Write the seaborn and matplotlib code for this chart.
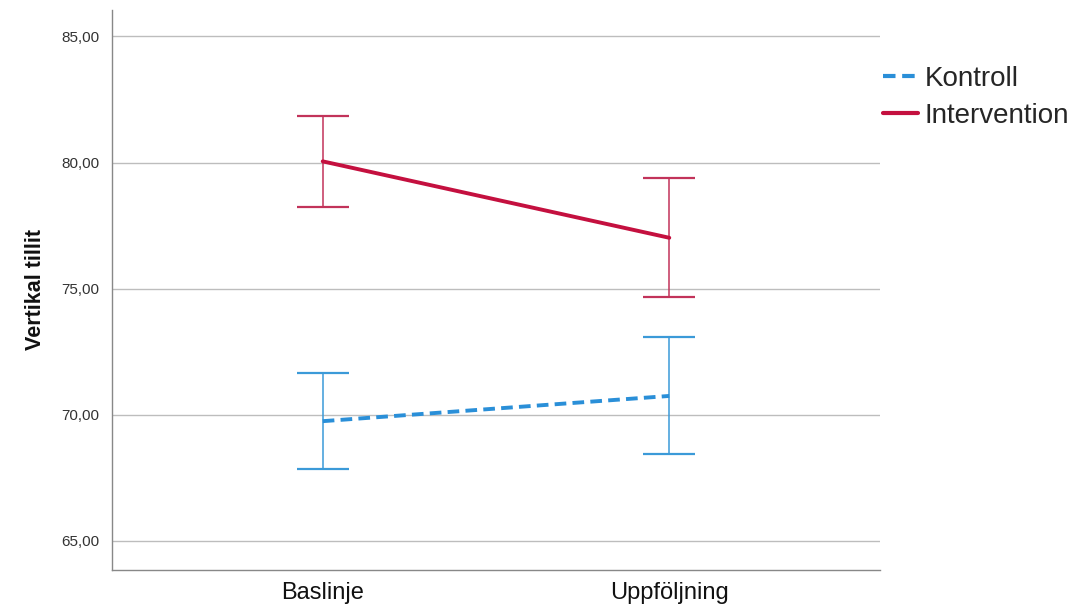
import matplotlib
matplotlib.use("Agg")
import matplotlib.pyplot as plt
import seaborn as sns
import pandas as pd
from matplotlib.lines import Line2D

# Data
timepoints = ["Baslinje", "Uppföljning"]
groups = ["Kontroll", "Intervention"]
kontroll_mean = [69.75, 70.75]
kontroll_lo = [67.85, 68.45]
kontroll_hi = [71.65, 73.10]
intervention_mean = [80.05, 77.02]
intervention_lo = [78.25, 74.68]
intervention_hi = [81.85, 79.38]
yticks = [65, 70, 75, 80, 85]

sns.set_theme(style="white")
plt.rcParams["font.family"] = ["Liberation Sans", "DejaVu Sans"]

df = pd.DataFrame({
    "Tid": timepoints * 2,
    "Grupp": [groups[0]] * 2 + [groups[1]] * 2,
    "Medel": kontroll_mean + intervention_mean,
})

colors = {"Kontroll": "#2a8fd8", "Intervention": "#c4103f"}
err_colors = {"Kontroll": "#3b9ad8", "Intervention": "#c2335a"}

fig = plt.figure(figsize=(10.87, 6.12), dpi=100)
ax = fig.add_axes([112 / 1087, 1 - 570 / 612, (880 - 112) / 1087, (570 - 10) / 612])

# error bars (confidence intervals)
for g, m, lo, hi in [("Kontroll", kontroll_mean, kontroll_lo, kontroll_hi),
                     ("Intervention", intervention_mean, intervention_lo, intervention_hi)]:
    yerr = [[mm - l for mm, l in zip(m, lo)], [h - mm for mm, h in zip(m, hi)]]
    ax.errorbar([0, 1], m, yerr=yerr, fmt="none", ecolor=err_colors[g],
                elinewidth=1.1, capsize=19, capthick=1.6, zorder=3)

sns.lineplot(data=df, x="Tid", y="Medel", hue="Grupp", style="Grupp",
             palette=colors, dashes={"Kontroll": (3, 1.6), "Intervention": ""},
             linewidth=2.8, ax=ax, legend=False, zorder=4, sort=False)

ax.set_xlim(-0.608, 1.608)
ax.set_ylim(63.85, 86.05)
ax.set_yticks(yticks)
ax.set_yticklabels([f"{v:.2f}".replace(".", ",") for v in yticks], fontsize=11, color="#333333")
ax.set_xticks([0, 1])
ax.set_xticklabels(timepoints, fontsize=17, color="#111111")
ax.tick_params(axis="y", length=0, pad=9)
ax.tick_params(axis="x", length=0, pad=9)
ax.yaxis.grid(True, color="#bdbdbd", linewidth=1.0)
ax.set_axisbelow(True)
for s in ["top", "right"]:
    ax.spines[s].set_visible(False)
for s in ["left", "bottom"]:
    ax.spines[s].set_color("#888888")
    ax.spines[s].set_linewidth(1.0)
ax.set_xlabel("")
ax.set_ylabel("Vertikal tillit", fontsize=15.5, fontweight="bold", color="#111111",
              labelpad=11)

handles = [Line2D([], [], color=colors["Kontroll"], lw=3.0, dashes=(3, 1.6)),
           Line2D([], [], color=colors["Intervention"], lw=3.0)]
fig.legend(handles, groups, loc="upper left", bbox_to_anchor=(883 / 1087, 1 - 66 / 612),
           frameon=False, fontsize=20, handlelength=1.26, handletextpad=0.25,
           labelspacing=0.4, borderaxespad=0, borderpad=0)

fig.savefig("out.png", dpi=100)
